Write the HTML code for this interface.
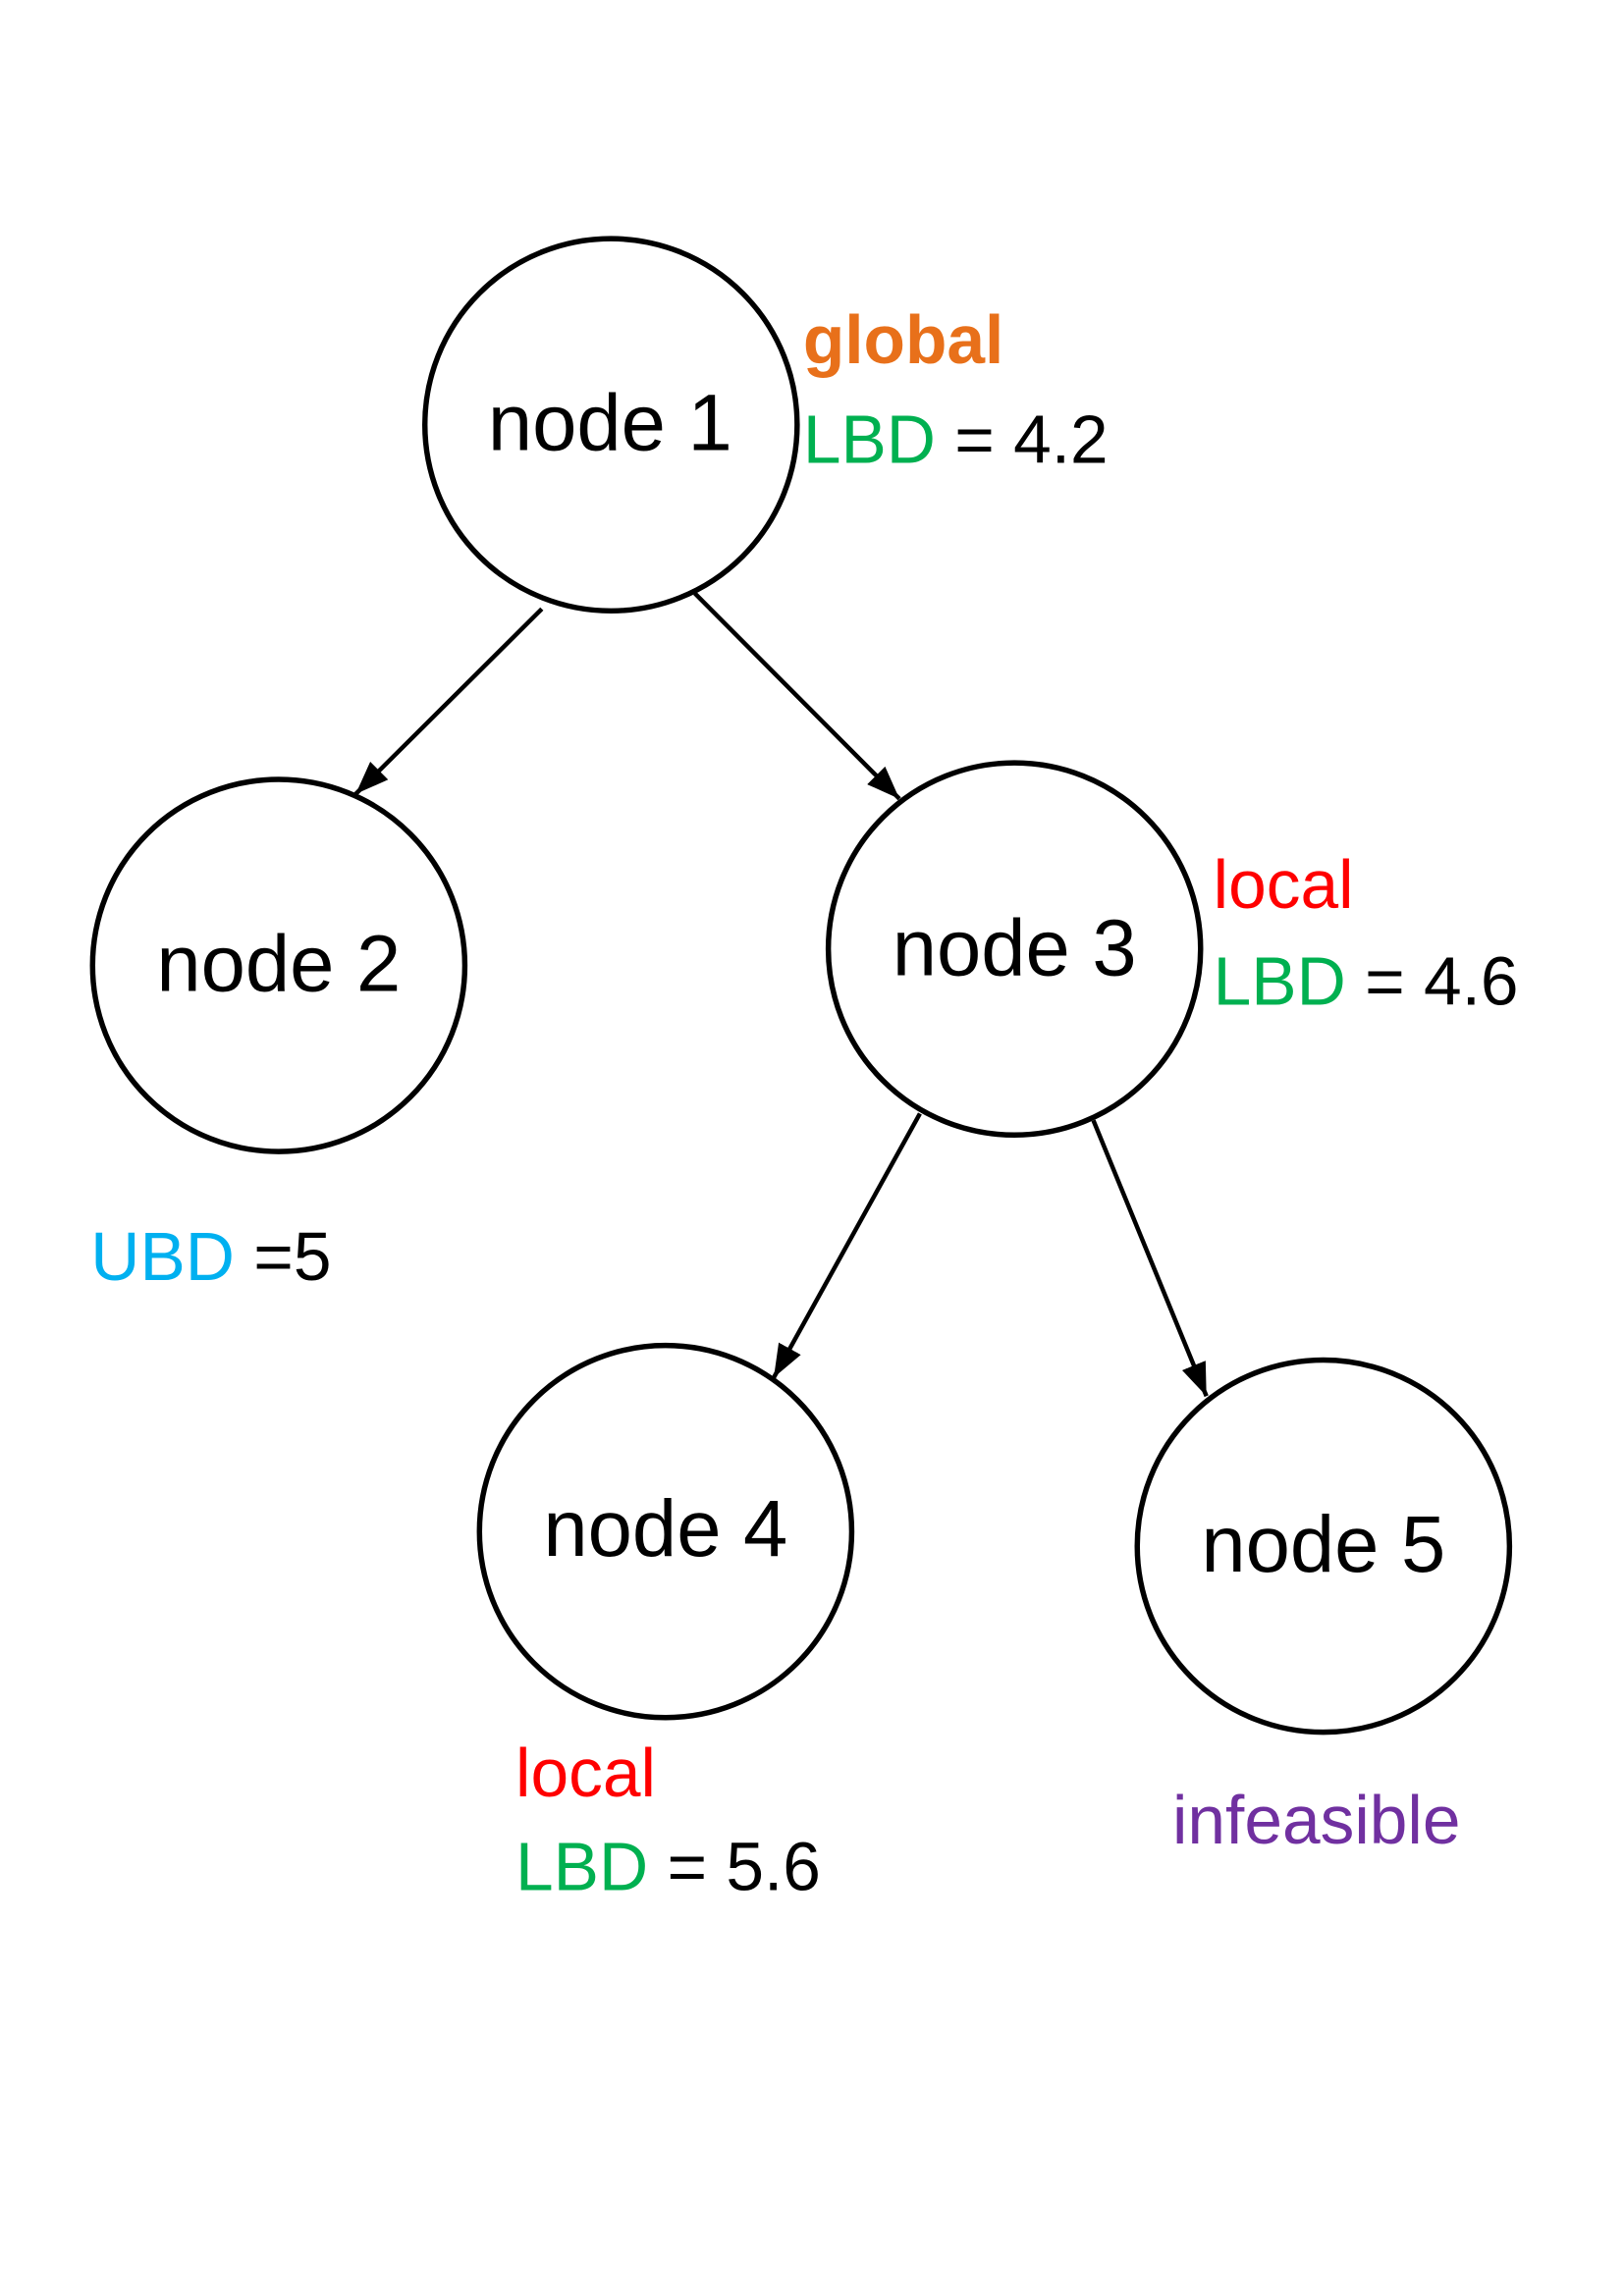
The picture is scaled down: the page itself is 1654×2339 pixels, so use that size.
<!DOCTYPE html>
<html><head><meta charset="utf-8"><style>html,body{margin:0;padding:0;background:#fff}svg{display:block}</style></head>
<body>
<svg width="1654" height="2339" viewBox="0 0 1654 2339" xmlns="http://www.w3.org/2000/svg">
<defs>
<marker id="b" viewBox="0 0 10 10" refX="10" refY="5" markerWidth="34" markerHeight="26" orient="auto" markerUnits="userSpaceOnUse" preserveAspectRatio="none"><path d="M0,0 L10,5 L0,10 z" fill="#000"/></marker></defs>
<g transform="scale(0.9925)">
<g fill="#fff" stroke="#000" stroke-width="5.5">
<circle cx="627" cy="436" r="191"/>
<circle cx="286" cy="991" r="191"/>
<circle cx="1041" cy="974" r="191"/>
<circle cx="683" cy="1572" r="191"/>
<circle cx="1358" cy="1587" r="191"/>
</g>
<g stroke="#000" stroke-width="4.5" marker-end="url(#b)">
<line x1="556" y1="625" x2="365" y2="815"/>
<line x1="713" y1="609" x2="923" y2="820"/>
<line x1="944" y1="1143" x2="794" y2="1414"/>
<line x1="1122" y1="1150" x2="1238" y2="1433"/>
</g>
<g font-family="Liberation Sans, sans-serif" font-size="82" text-anchor="middle" fill="#000">
<text x="626" y="462">node 1</text>
<text x="286" y="1017">node 2</text>
<text x="1041" y="1001">node 3</text>
<text x="683" y="1597">node 4</text>
<text x="1358" y="1613">node 5</text>
</g>
<g font-family="Liberation Sans, sans-serif" font-size="70">
<text x="824" y="373" font-weight="bold" fill="#E8701A">global</text>
<text x="824" y="475"><tspan fill="#00B050">LBD</tspan> = 4.2</text>
<text x="1245" y="932" fill="#FF0000">local</text>
<text x="1245" y="1031"><tspan fill="#00B050">LBD</tspan> = 4.6</text>
<text x="93" y="1314"><tspan fill="#00B0F0">UBD</tspan> =5</text>
<text x="529" y="1844" fill="#FF0000">local</text>
<text x="529" y="1940"><tspan fill="#00B050">LBD</tspan> = 5.6</text>
<text x="1203" y="1892" fill="#7030A0">infeasible</text>
</g>
</g>
</svg>
</body></html>
